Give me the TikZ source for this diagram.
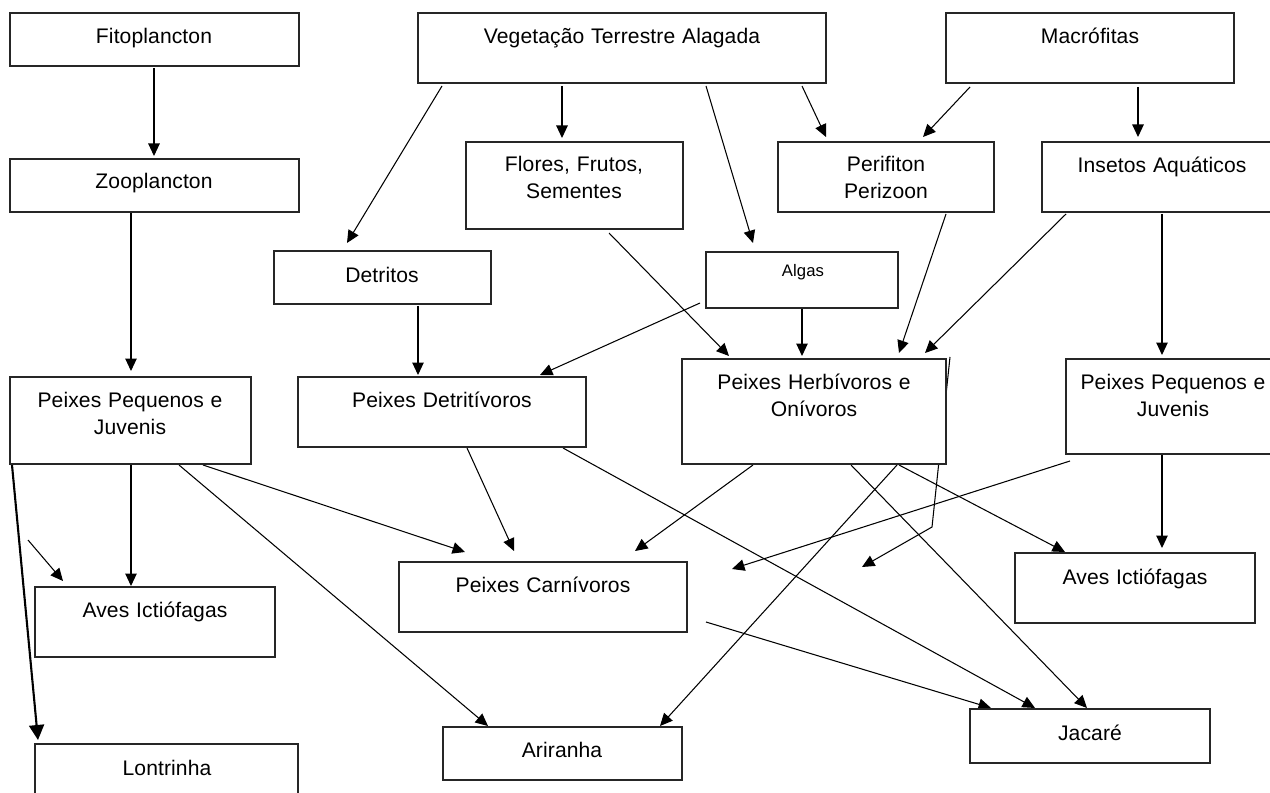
\documentclass[tikz,border=0pt]{standalone}
\usepackage{fontspec}
\setmainfont{Liberation Sans}[LetterSpace=0.5,WordSpace=1.15]
\usetikzlibrary{arrows.meta,calc,fit,backgrounds}
\begin{document}
\begin{tikzpicture}[x=0.02cm,y=-0.02cm,
  box/.style={draw=black!85, line width=0.75pt, fill=white, inner sep=0pt, outer sep=0pt},
  lbl/.style={anchor=north, yshift=10.78pt, align=center, inner sep=0pt, font=\fontsize{12}{15.4}\selectfont},
  smalllbl/.style={anchor=base, inner sep=0pt, font=\fontsize{9.5}{11.4}\selectfont},
  arr/.style={line width=0.6pt, -{Triangle[length=0.25cm,width=0.23cm]}},
  thickarr/.style={line width=1.2pt, -{Triangle[length=0.3cm,width=0.3cm]}},
  ln/.style={line width=0.6pt}]
\useasboundingbox (0,0) rectangle (1270,793);
\clip (0,0) rectangle (1270,793);

% boxes
\node[box, fit={(10,13) (299,66)}] (fito) {};
\node[box, fit={(418,13) (826,83)}] (veg) {};
\node[box, fit={(946,13) (1234,83)}] (macro) {};
\node[box, fit={(10,159) (299,212)}] (zoo) {};
\node[box, fit={(466,142) (683,229)}] (flores) {};
\node[box, fit={(778,142) (994,212)}] (peri) {};
\node[box, fit={(1042,142) (1290,212)}] (ins) {};
\node[box, fit={(274,251) (491,304)}] (detr) {};
\node[box, fit={(706,252) (898,308)}] (algas) {};
\node[box, fit={(10,377) (251,464)}] (ppjl) {};
\node[box, fit={(298,377) (586,447)}] (pdet) {};
\node[box, fit={(682,359) (946,464)}] (herb) {};
\node[box, fit={(1066,359) (1290,454)}] (ppjr) {};
\node[box, fit={(399,562) (687,632)}] (carn) {};
\node[box, fit={(35,587) (275,657)}] (avesl) {};
\node[box, fit={(1015,553) (1255,623)}] (avesr) {};
\node[box, fit={(443,727) (682,780)}] (arir) {};
\node[box, fit={(970,709) (1210,763)}] (jac) {};
\node[box, fit={(35,744) (298,810)}] (lont) {};

% labels
\node[lbl] (fito-t) at (154,43) {\strut Fitoplancton};
\node[lbl] (veg-t) at (622,43) {\strut Vegetação Terrestre Alagada};
\node[lbl] (macro-t) at (1090,43) {\strut Macrófitas};
\node[lbl] (zoo-t) at (154,188) {\strut Zooplancton};
\node[lbl] (flores-t) at (574,171) {\strut Flores, Frutos,\\\strut Sementes};
\node[lbl] (peri-t) at (886,171) {\strut Perifiton\\\strut Perizoon};
\node[lbl] (ins-t) at (1162,172) {\strut Insetos Aquáticos};
\node[lbl] (detr-t) at (382,282) {\strut Detritos};
\node[smalllbl] (algas-t) at (803,277) {Algas};
\node[lbl] (ppjl-t) at (130,407) {\strut Peixes Pequenos e\\\strut Juvenis};
\node[lbl] (pdet-t) at (442,407) {\strut Peixes Detritívoros};
\node[lbl] (herb-t) at (814,389) {\strut Peixes Herbívoros e\\\strut Onívoros};
\node[lbl] (ppjr-t) at (1173,389) {\strut Peixes Pequenos e\\\strut Juvenis};
\node[lbl] (carn-t) at (543,592) {\strut Peixes Carnívoros};
\node[lbl] (avesl-t) at (155,617) {\strut Aves Ictiófagas};
\node[lbl] (avesr-t) at (1135,584) {\strut Aves Ictiófagas};
\node[lbl] (arir-t) at (562,757) {\strut Ariranha};
\node[lbl] (jac-t) at (1090,740) {\strut Jacaré};
\node[lbl] (lont-t) at (167,775) {\strut Lontrinha};

% free ends
\coordinate (fa) at (28,540);
\coordinate (bend) at (932,527);
\coordinate (freeA) at (862,567);
\coordinate (freeB) at (732,569);

\begin{pgfonlayer}{background}
\fill[white] (0,0) rectangle (1270,793);
% top part
\draw[arr] ($(fito.south west)+(144,2)$) -- ($(zoo.north west)+(144,-3)$);
\draw[arr] ($(zoo.south west)+(121,1)$) -- ($(ppjl.north west)+(121,-6)$);
\draw[arr] ($(veg.south west)+(24,3)$) -- ($(detr.north west)+(73,-8)$);
\draw[arr] ($(veg.south west)+(144,3)$) -- ($(flores.north west)+(96,-4)$);
\draw[arr] ($(veg.south west)+(288,3)$) -- ($(algas.north west)+(47,-9)$);
\draw[arr] ($(veg.south west)+(384,3)$) -- ($(peri.north west)+(48,-5)$);
\draw[arr] ($(macro.south west)+(24,4)$) -- ($(peri.north west)+(145,-5)$);
\draw[arr] ($(macro.south west)+(192,4)$) -- ($(ins.north west)+(96,-5)$);
% middle
\draw[arr] ($(detr.south west)+(144,2)$) -- ($(pdet.north west)+(120,-2)$);
\draw[arr] ($(algas.south west)+(-6,-5)$) -- ($(pdet.north west)+(242,-2)$);
\draw[arr] ($(algas.south west)+(96,1)$) -- ($(herb.north west)+(120,-3)$);
\draw[arr] ($(flores.south west)+(143,4)$) -- ($(herb.north west)+(47,-3)$);
\draw[arr] ($(peri.south west)+(168,2)$) -- ($(herb.north west)+(217,-6)$);
\draw[arr] ($(ins.south west)+(24,2)$) -- ($(herb.north west)+(243,-6)$);
\draw[arr] ($(ins.south west)+(120,2)$) -- ($(ppjr.north west)+(96,-4)$);
% lower part
\draw[thickarr] ($(ppjl.south west)+(2,1)$) -- ($(lont.north west)+(3,-4)$);
\draw[arr] (fa) -- ($(avesl.north west)+(28,-6)$);
\draw[arr] ($(ppjl.south west)+(121,1)$) -- ($(avesl.north west)+(96,-1)$);
\draw[arr] ($(ppjl.south west)+(169,1)$) -- ($(arir.north west)+(45,-1)$);
\draw[arr] ($(ppjl.south west)+(193,1)$) -- ($(carn.north west)+(66,-10)$);
\draw[arr] ($(pdet.south west)+(169,1)$) -- ($(carn.north west)+(115,-11)$);
\draw[arr] ($(pdet.south west)+(265,1)$) -- ($(jac.north west)+(65,-1)$);
\draw[arr] ($(herb.south west)+(71,1)$) -- ($(carn.north west)+(236,-11)$);
\draw[arr] ($(herb.south west)+(169,1)$) -- ($(jac.north west)+(117,-1)$);
\draw[arr] ($(herb.south west)+(215,1)$) -- ($(arir.north west)+(217,-1)$);
\draw[arr] ($(herb.south west)+(217,1)$) -- ($(avesr.north west)+(50,-1)$);
\draw[arr] ($(herb.north east)+(4,-2)$) -- (bend) -- (freeA);
\draw[arr] ($(ppjr.south west)+(4,7)$) -- (freeB);
\draw[arr] ($(ppjr.south west)+(96,1)$) -- ($(avesr.north west)+(147,-5)$);
\draw[arr] ($(carn.south east)+(19,-10)$) -- ($(jac.north west)+(21,-1)$);
\end{pgfonlayer}
\end{tikzpicture}
\end{document}
